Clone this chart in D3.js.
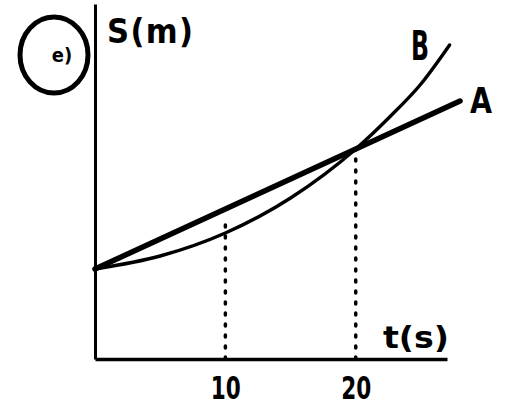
<!DOCTYPE html>
<html><head><meta charset="utf-8">
<script src="https://cdn.jsdelivr.net/npm/d3@7"></script>
<style>
html,body{margin:0;padding:0;background:#fff;}
svg{display:block;}
text{font-family:"DejaVu Sans Condensed","DejaVu Sans",sans-serif;font-weight:bold;fill:#000;}
</style></head>
<body>
<svg id="chart" width="506" height="408"></svg>
<script>
// Data (time in s, displacement in arbitrary m units)
const timeTicks = [10, 20];
const tickLabels = ["10", "20"];
const lineA_t = [0, 28];
const lineA_s = [9, 25.8];
const curveB_t = [0, 5, 10, 15, 20, 22.6, 25, 27.2];
const curveB_s = [9, 10.3, 12.6, 16.1, 21, 24.2, 27.5, 31.4];
const seriesNames = ["A", "B"];
const yLabel = "S(m)";
const xLabel = "t(s)";
const panelLabel = "e)";

const svg = d3.select("#chart");
const x = d3.scaleLinear().domain([0, 27]).range([95, 447]);
const y = d3.scaleLinear().domain([0, 35.5]).range([359, 4]);

// axes
const xAxis = d3.axisBottom(x).tickValues(timeTicks).tickSize(0).tickSizeOuter(0)
  .tickFormat((d, i) => tickLabels[i]);
const gx = svg.append("g").attr("transform", `translate(0,${y(0)})`).call(xAxis);
gx.select(".domain").attr("stroke", "#000").attr("stroke-width", 3.5);
gx.selectAll(".tick text").attr("font-size", 32).attr("dy", 0).attr("y", 40)
  .attr("textLength", 30).attr("lengthAdjust", "spacingAndGlyphs")
  .style("font-family", '"DejaVu Sans Condensed","DejaVu Sans",sans-serif').style("font-weight", "bold").attr("fill", "#000");

const yAxis = d3.axisLeft(y).tickValues([]).tickSizeOuter(0);
const gy = svg.append("g").attr("transform", `translate(${x(0)},0)`).call(yAxis);
gy.select(".domain").attr("stroke", "#000").attr("stroke-width", 3);

// dashed guides
const guideTops = [14.2, 21];
svg.append("g").selectAll("line").data(timeTicks).join("line")
  .attr("x1", d => x(d)).attr("x2", d => x(d))
  .attr("y1", y(0)).attr("y2", (d, i) => y(guideTops[i]))
  .attr("stroke", "#000").attr("stroke-width", 3.5)
  .attr("stroke-dasharray", "2,9").attr("stroke-linecap", "round");

// curve B
const bData = curveB_t.map((t, i) => [t, curveB_s[i]]);
svg.append("path").datum(bData)
  .attr("d", d3.line().x(d => x(d[0])).y(d => y(d[1])).curve(d3.curveMonotoneX))
  .attr("fill", "none").attr("stroke", "#000").attr("stroke-width", 3.4).attr("stroke-linecap", "round");

// line A
const aData = lineA_t.map((t, i) => [t, lineA_s[i]]);
svg.append("path").datum(aData)
  .attr("d", d3.line().x(d => x(d[0])).y(d => y(d[1])))
  .attr("fill", "none").attr("stroke", "#000").attr("stroke-width", 5.5).attr("stroke-linecap", "round");

// series labels
svg.append("text").attr("x", 470).attr("y", 113)
  .attr("font-size", 36).attr("textLength", 22).attr("lengthAdjust", "spacingAndGlyphs").text(seriesNames[0]);
svg.append("text").attr("x", 411).attr("y", 60)
  .attr("font-size", 40).attr("textLength", 18).attr("lengthAdjust", "spacingAndGlyphs").text(seriesNames[1]);

// axis titles
svg.append("text").attr("x", 107).attr("y", 43).attr("font-size", 34)
  .attr("textLength", 86).attr("lengthAdjust", "spacing").text(yLabel);
svg.append("text").attr("x", 383).attr("y", 348).attr("font-size", 30)
  .attr("textLength", 66).attr("lengthAdjust", "spacingAndGlyphs").text(xLabel);

// panel label circle
svg.append("ellipse").attr("cx", 54).attr("cy", 55).attr("rx", 34).attr("ry", 38)
  .attr("fill", "none").attr("stroke", "#000").attr("stroke-width", 5);
svg.append("text").attr("x", 62).attr("y", 62).attr("text-anchor", "middle")
  .attr("font-size", 20).text(panelLabel);
</script>
</body></html>
